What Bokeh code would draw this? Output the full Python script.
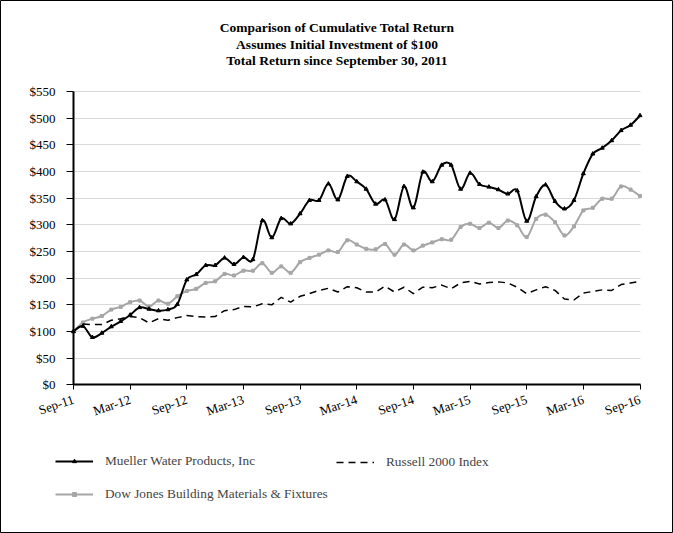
from bokeh.plotting import figure
from bokeh.models import FixedTicker, Legend, LegendItem, Label
from bokeh.embed import file_html
from bokeh.resources import INLINE

months = list(range(61))
x_tick_pos = [0, 6, 12, 18, 24, 30, 36, 42, 48, 54, 60]
x_tick_labels = ["Sep-11", "Mar-12", "Sep-12", "Mar-13", "Sep-13", "Mar-14",
                 "Sep-14", "Mar-15", "Sep-15", "Mar-16", "Sep-16"]
y_tick_pos = [0, 50, 100, 150, 200, 250, 300, 350, 400, 450, 500, 550]
y_tick_labels = ["$0", "$50", "$100", "$150", "$200", "$250", "$300", "$350",
                 "$400", "$450", "$500", "$550"]

mueller = [100, 110, 89, 97, 109, 119, 131, 145, 142, 139, 141, 151,
           197, 207, 224, 224, 238, 226, 239, 235, 308, 276, 312, 302,
           321, 346, 346, 377, 347, 391, 381, 367, 339, 347, 310, 372,
           332, 399, 381, 412, 412, 367, 397, 376, 371, 366, 358, 364,
           307, 353, 375, 344, 330, 346, 396, 433, 444, 458, 477, 487, 505]
dowjones = [100, 117, 124, 129, 141, 146, 155, 158, 147, 158, 152, 166,
            176, 180, 191, 194, 208, 205, 214, 214, 228, 210, 222, 210,
            230, 238, 244, 252, 249, 271, 263, 255, 254, 264, 244, 263,
            252, 261, 267, 273, 272, 296, 302, 294, 304, 294, 308, 299,
            277, 311, 319, 305, 280, 297, 327, 332, 349, 349, 372, 366, 354]
russell = [100, 114, 113, 113, 121, 124, 128, 126, 116, 124, 121, 126,
           130, 128, 127, 128, 139, 141, 147, 146, 152, 150, 164, 155,
           166, 171, 177, 181, 174, 184, 182, 174, 174, 185, 174, 183,
           171, 183, 182, 187, 180, 191, 194, 189, 192, 193, 191, 183,
           171, 178, 184, 177, 161, 159, 172, 175, 178, 177, 188, 191, 194]

series_names = ["Mueller Water Products, Inc", "Russell 2000 Index",
                "Dow Jones Building Materials & Fixtures"]
titles = ["Comparison of Cumulative Total Return",
          "Assumes Initial Investment of $100",
          "Total Return since September 30, 2011"]

SERIF = "Liberation Serif"
W, H = 673, 533

# --- layout: the frame fills the whole canvas; axes sit at fixed locations ---
PLOT_L, PLOT_R = 73.0, 639.5      # pixel x of first / last month
PLOT_T, PLOT_B = 91.0, 384.3      # pixel y of top / bottom of value axis
X0, X1 = months[0], months[-1]
Y0, Y1 = y_tick_pos[0], y_tick_pos[-1]
sx = (PLOT_R - PLOT_L) / (X1 - X0)
sy = (PLOT_B - PLOT_T) / (Y1 - Y0)
x_start = X0 - PLOT_L / sx
x_end = x_start + W / sx
y_start = Y0 - (H - PLOT_B) / sy
y_end = y_start + H / sy


def px_x(px):
    return x_start + px / sx


def px_y(py):
    return y_start + (H - py) / sy


def smooth_segments(xs, ys, t=1.0):
    """Cubic Bezier control points for a Catmull-Rom style smoothed line."""
    n = len(xs)
    out = dict(x0=[], y0=[], x1=[], y1=[], cx0=[], cy0=[], cx1=[], cy1=[])
    for i in range(n - 1):
        xm, ym = (xs[i - 1], ys[i - 1]) if i > 0 else (xs[i], ys[i])
        xp, yp = (xs[i + 2], ys[i + 2]) if i + 2 < n else (xs[i + 1], ys[i + 1])
        out["x0"].append(xs[i]); out["y0"].append(ys[i])
        out["x1"].append(xs[i + 1]); out["y1"].append(ys[i + 1])
        out["cx0"].append(xs[i] + (xs[i + 1] - xm) * t / 6)
        out["cy0"].append(ys[i] + (ys[i + 1] - ym) * t / 6)
        out["cx1"].append(xs[i + 1] - (xp - xs[i]) * t / 6)
        out["cy1"].append(ys[i + 1] - (yp - ys[i]) * t / 6)
    return out


p = figure(width=W, height=H, output_backend="svg", toolbar_location=None,
           x_range=(x_start, x_end), y_range=(y_start, y_end),
           min_border=0)
p.outline_line_color = "black"
p.outline_line_width = 1
p.background_fill_color = "white"
p.border_fill_color = "white"

p.xgrid.grid_line_color = None
p.ygrid.grid_line_color = "#d9d9d9"
p.ygrid.grid_line_width = 1
p.ygrid.bounds = (Y0, Y1)
grid_ok = True
try:
    p.ygrid.cross_bounds = (X0, X1)
except Exception:
    grid_ok = False
if not grid_ok:
    p.ygrid.grid_line_color = None
    p.segment(x0=[X0] * len(y_tick_pos), x1=[X1] * len(y_tick_pos),
              y0=y_tick_pos, y1=y_tick_pos, line_color="#d9d9d9", line_width=1)

p.xaxis.fixed_location = Y0
p.xaxis.bounds = (X0, X1)
p.xaxis.ticker = FixedTicker(ticks=x_tick_pos)
p.xaxis.major_label_overrides = {t: l for t, l in zip(x_tick_pos, x_tick_labels)}
p.xaxis.major_label_orientation = 0.33
p.xaxis.minor_tick_line_color = None
p.xaxis.major_tick_out = 5
p.xaxis.major_tick_in = 0
p.xaxis.major_label_standoff = 9

p.yaxis.fixed_location = X0
p.yaxis.bounds = (Y0, Y1)
p.yaxis.ticker = FixedTicker(ticks=y_tick_pos)
p.yaxis.major_label_overrides = {t: l for t, l in zip(y_tick_pos, y_tick_labels)}
p.yaxis.minor_tick_line_color = None
p.yaxis.major_tick_out = 7
p.yaxis.major_tick_in = 0
p.yaxis.major_label_standoff = 11

for ax in (p.xaxis, p.yaxis):
    ax.axis_line_color = "black"
    ax.axis_line_width = 2
    ax.major_tick_line_color = "black"
    ax.major_tick_line_width = 1
    ax.major_label_text_font = SERIF
    ax.major_label_text_font_size = "13px"
    ax.major_label_text_color = "black"

GRAY = "#a6a6a6"
b_dj = p.bezier(line_color=GRAY, line_width=2, **smooth_segments(months, dowjones))
s_dj = p.scatter(months, dowjones, marker="square", size=3, color=GRAY)
l_ru = p.line(months, russell, line_color="black", line_width=1.5, line_dash="7 5")
b_mu = p.bezier(line_color="black", line_width=2, **smooth_segments(months, mueller))
s_mu = p.scatter(months, mueller, marker="triangle", size=4, color="black")

legend_style = dict(padding=0, margin=0, glyph_width=38, glyph_height=10,
                    label_height=10, label_standoff=12, spacing=17,
                    border_line_color=None, background_fill_alpha=0,
                    label_text_font=SERIF, label_text_font_size="13.3px")
legend_left = Legend(items=[
    LegendItem(label=series_names[0], renderers=[b_mu, s_mu]),
    LegendItem(label=series_names[2], renderers=[b_dj, s_dj]),
], location=(55, 31), **legend_style)
legend_right = Legend(items=[
    LegendItem(label=series_names[1], renderers=[l_ru]),
], location=(336, 63), **legend_style)
p.add_layout(legend_left, "center")
p.add_layout(legend_right, "center")

title_rows = [27, 44, 60]
for t, py in zip(titles, title_rows):
    p.add_layout(Label(x=px_x(W / 2), y=px_y(py), text=t,
                       text_align="center", text_baseline="middle",
                       text_font=SERIF, text_font_style="bold",
                       text_font_size="13.5px", text_color="black"))

open("out.html", "w").write(file_html(p, INLINE))
